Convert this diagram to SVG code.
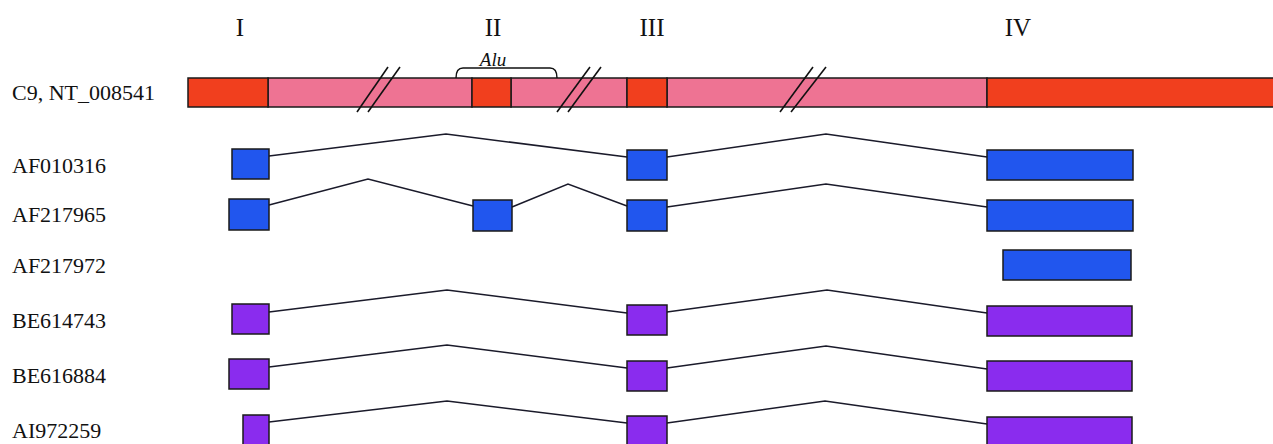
<svg xmlns="http://www.w3.org/2000/svg" width="1273" height="444" viewBox="0 0 1273 444">
<style>
text{font-family:"Liberation Serif","Times New Roman",serif;fill:#111}
.lab{font-size:22px}
.rom{font-size:25px}
.red{fill:#F13F1E;stroke:#1a1a1a;stroke-width:1.5}
.pink{fill:#EE7393;stroke:#1a1a1a;stroke-width:1.5}
.blue{fill:#2156EE;stroke:#1a1a1a;stroke-width:1.5}
.purple{fill:#8A2CEE;stroke:#1a1a1a;stroke-width:1.5}
.intron{fill:none;stroke:#1a1a2a;stroke-width:1.5}
.brk{stroke:#111;stroke-width:1.6}
</style>
<rect width="1273" height="444" fill="#fff"/>
<g id="exon-labels">
<text class="rom" x="240" y="36" text-anchor="middle">I</text>
<text class="rom" x="493" y="36" text-anchor="middle">II</text>
<text class="rom" x="652" y="36" text-anchor="middle">III</text>
<text class="rom" x="1018" y="36" text-anchor="middle">IV</text>
</g>
<g id="genomic">
<text class="lab" x="12" y="100">C9, NT_008541</text>
<rect class="pink" x="268" y="78" width="204" height="29"/>
<rect class="pink" x="511" y="78" width="116" height="29"/>
<rect class="pink" x="667" y="78" width="320" height="29"/>
<rect class="red" x="188" y="78" width="80" height="29"/>
<rect class="red" x="472" y="78" width="39" height="29"/>
<rect class="red" x="627" y="78" width="40" height="29"/>
<rect class="red" x="987" y="78" width="290" height="29"/>
<line class="brk" x1="357" y1="112" x2="388" y2="67"/>
<line class="brk" x1="368" y1="112" x2="400" y2="67"/>
<line class="brk" x1="557" y1="112" x2="590" y2="67"/>
<line class="brk" x1="568" y1="112" x2="601" y2="67"/>
<line class="brk" x1="780" y1="112" x2="813" y2="67"/>
<line class="brk" x1="791" y1="112" x2="826" y2="67"/>
<path d="M456,78 Q456,68 463,68 L550,68 Q557,68 557,78" fill="none" stroke="#111" stroke-width="1.4"/>
<text x="493" y="66" text-anchor="middle" font-size="19" font-style="italic">Alu</text>
</g>
<g id="connectors">
<polyline class="intron" points="269,156 446,134 627,157"/>
<polyline class="intron" points="667,157 826,134 987,157"/>
<polyline class="intron" points="269,205 368,179 473,206"/>
<polyline class="intron" points="512,207 568,184 627,206"/>
<polyline class="intron" points="667,207 826,184 987,207"/>
<polyline class="intron" points="269,312 447,290 627,313"/>
<polyline class="intron" points="667,312 827,290 987,313"/>
<polyline class="intron" points="269,367 447,345 627,368"/>
<polyline class="intron" points="667,368 826,346 987,369"/>
<polyline class="intron" points="269,422 447,401 627,423"/>
<polyline class="intron" points="667,423 825,401 987,424"/>
</g>
<g id="AF010316">
<text class="lab" x="12" y="173">AF010316</text>
<rect class="blue" x="232" y="149" width="37" height="30"/>
<rect class="blue" x="627" y="150" width="40" height="30"/>
<rect class="blue" x="987" y="150" width="146" height="30"/>
</g>
<g id="AF217965">
<text class="lab" x="12" y="222">AF217965</text>
<rect class="blue" x="229" y="199" width="40" height="31"/>
<rect class="blue" x="473" y="200" width="39" height="31"/>
<rect class="blue" x="627" y="200" width="40" height="31"/>
<rect class="blue" x="987" y="200" width="146" height="31"/>
</g>
<g id="AF217972">
<text class="lab" x="12" y="273">AF217972</text>
<rect class="blue" x="1003" y="250" width="128" height="30"/>
</g>
<g id="BE614743">
<text class="lab" x="12" y="328">BE614743</text>
<rect class="purple" x="232" y="304" width="37" height="30"/>
<rect class="purple" x="627" y="305" width="40" height="30"/>
<rect class="purple" x="987" y="306" width="145" height="30"/>
</g>
<g id="BE616884">
<text class="lab" x="12" y="383">BE616884</text>
<rect class="purple" x="229" y="359" width="40" height="30"/>
<rect class="purple" x="627" y="361" width="40" height="30"/>
<rect class="purple" x="987" y="361" width="145" height="30"/>
</g>
<g id="AI972259">
<text class="lab" x="12" y="438">AI972259</text>
<rect class="purple" x="243" y="415" width="26" height="32"/>
<rect class="purple" x="627" y="416" width="40" height="32"/>
<rect class="purple" x="987" y="417" width="145" height="32"/>
</g>
</svg>
